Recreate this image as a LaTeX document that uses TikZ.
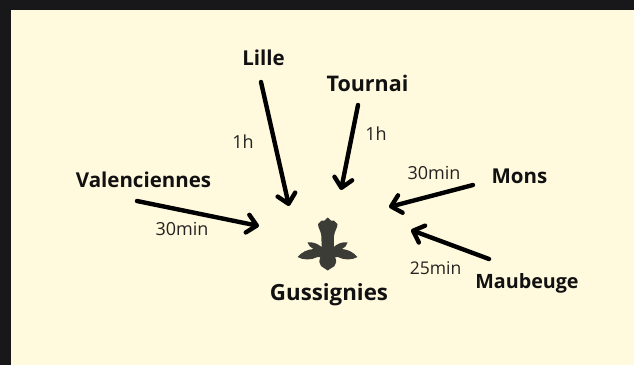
\documentclass[tikz,border=0pt]{standalone}
\usepackage{fontspec}
\setmainfont{Open Sans}
\usetikzlibrary{arrows.meta}
\definecolor{frameC}{HTML}{18171A}
\definecolor{paperC}{HTML}{FFF9DD}
\definecolor{iconC}{HTML}{3C3C36}
\definecolor{textC}{HTML}{111111}
\tikzset{
  city/.style={font=\fontsize{20.5}{24}\selectfont\bfseries,text=textC,inner sep=0pt,anchor=center},
  time/.style={font=\fontsize{18}{22}\selectfont,text=textC!92!paperC,inner sep=0pt,anchor=center},
  route/.style={line width=4.4pt,line cap=round,draw=black,-{Straight Barb[length=9.5pt,width=18pt,line width=4.4pt,round]}}
}
\begin{document}
\begin{tikzpicture}[x=1pt,y=-1pt]
\useasboundingbox (0,0) rectangle (634,365);
\fill[frameC] (0,0) rectangle (634,365);
\fill[paperC] (11,10) rectangle (634,365);
\node[city] (lille) at (263.5,57.5) {Lille};
\node[city,font=\fontsize{21.5}{24}\selectfont\bfseries] (tournai) at (367.5,83) {Tournai};
\node[city] (valenciennes) at (143.5,180) {Valenciennes};
\node[city] (mons) at (519.5,176.5) {Mons};
\node[city,font=\fontsize{19.7}{24}\selectfont\bfseries] (maubeuge) at (527,283) {Maubeuge};
\node[city,font=\fontsize{22.3}{26}\selectfont\bfseries] (gussignies) at (329,295) {Gussignies};
\node[time] (t1) at (243,142) {1h};
\node[time] (t2) at (376,133.5) {1h};
\node[time] (t3) at (434,173) {30min};
\node[time] (t4) at (182,229) {30min};
\node[time,font=\fontsize{17.5}{22}\selectfont] (t5) at (435.5,268) {25min};
\coordinate (lilleS) at (261,82);
\coordinate (lilleE) at (289,206);
\coordinate (tournaiS) at (358,105);
\coordinate (tournaiE) at (341,190);
\coordinate (valS) at (137,201);
\coordinate (valE) at (259,226);
\coordinate (monsS) at (473,185);
\coordinate (monsE) at (389,207);
\coordinate (maubS) at (489,259);
\coordinate (maubE) at (411,230);
\draw[route] (lilleS) -- (lilleE);
\draw[route] (tournaiS) -- (tournaiE);
\draw[route] (valS) -- (valE);
\draw[route] (monsS) -- (monsE);
\draw[route] (maubS) -- (maubE);
\fill[iconC] (327.7,217.5) -- (331,220.5) -- (334,220.5) -- (337.5,224)
  .. controls (337.5,228) and (334.5,231) .. (334,236)
  -- (333.8,247)
  .. controls (337,244) and (342,241.5) .. (347.5,242.5)
  .. controls (347,245) and (345,248) .. (342,249)
  .. controls (348,249.5) and (353,252) .. (357.5,257)
  .. controls (352,260) and (345,260.5) .. (338,257)
  -- (335,257)
  .. controls (337,261) and (336,264) .. (334.5,266)
  -- (327.7,270.5) -- (321,266)
  .. controls (319.5,264) and (318.5,261) .. (320.5,257)
  -- (317.5,257)
  .. controls (311,260.5) and (303,260) .. (297.5,257)
  .. controls (302,252) and (307,249.5) .. (313.5,249)
  .. controls (310.5,248) and (308.5,245) .. (307.5,242.5)
  .. controls (313,241.5) and (318,244) .. (321.6,247)
  -- (321.4,236)
  .. controls (321,231) and (318,228) .. (318,224)
  -- (321.5,220.5) -- (324.5,220.5) -- cycle;
\end{tikzpicture}
\end{document}
